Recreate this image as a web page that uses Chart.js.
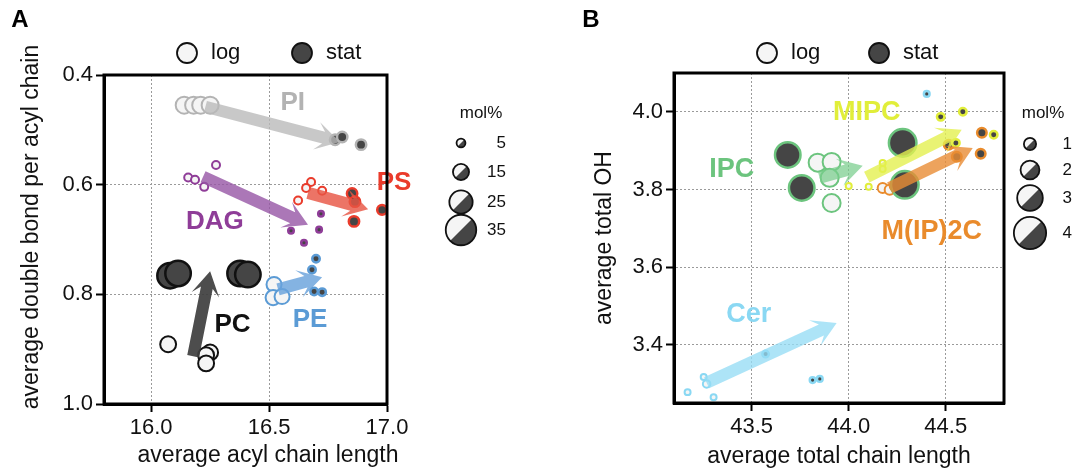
<!DOCTYPE html>
<html>
<head>
<meta charset="utf-8">
<script src="https://cdn.jsdelivr.net/npm/chart.js@4.4.1/dist/chart.umd.min.js"></script>
<style>
  html, body { margin: 0; padding: 0; background: #fff; }
  #wrap { position: relative; width: 1075px; height: 473px; }
  canvas { position: absolute; top: 0; }
  #chartA { left: 0; }
  #chartB { left: 537px; }
</style>
</head>
<body>
<div id="wrap">
  <canvas id="chartA" width="537" height="473"></canvas>
  <canvas id="chartB" width="538" height="473"></canvas>
</div>
<script>
const FONT = "'Liberation Sans', Arial, Helvetica, sans-serif";

// ---- Panel A: [average acyl chain length, double bonds per acyl chain, mol%]
const piLog   = [[16.14, 0.455, 19], [16.18, 0.455, 19], [16.21, 0.455, 19], [16.25, 0.455, 19]];
const piStat  = [[16.78, 0.518, 10.5], [16.81, 0.513, 10.5], [16.89, 0.527, 10.5]];
const dagLog  = [[16.275, 0.564, 6.5], [16.157, 0.587, 6.5], [16.186, 0.591, 6.5], [16.225, 0.604, 6.5]];
const dagStat = [[16.593, 0.684, 3.8], [16.72, 0.653, 3.8], [16.712, 0.682, 3.8], [16.648, 0.706, 3.8]];
const psLog   = [[16.678, 0.595, 6.5], [16.657, 0.606, 6.5], [16.725, 0.611, 6.5], [16.623, 0.629, 6.5]];
const psStat  = [[16.852, 0.616, 10.5], [16.864, 0.631, 10.5], [16.86, 0.667, 10.5], [16.979, 0.646, 9.5]];
const pcLog   = [[16.072, 0.891, 17.5], [16.25, 0.906, 17.5], [16.233, 0.911, 17.5], [16.233, 0.926, 17.5]];
const pcStat  = [[16.08, 0.766, 31.5], [16.114, 0.762, 31.5], [16.377, 0.762, 31.5], [16.41, 0.764, 31.5]];
const peLog   = [[16.521, 0.782, 16.3], [16.517, 0.806, 16.3], [16.555, 0.804, 16.3]];
const peStat  = [[16.699, 0.735, 6.5], [16.682, 0.755, 6.5], [16.691, 0.795, 6.5], [16.725, 0.796, 6.5]];
// arrows log -> stat: [x0, y0, x1, y1]
const piArrow  = [16.23, 0.458, 16.80, 0.522];
const dagArrow = [16.22, 0.5855, 16.665, 0.673];
const psArrow  = [16.665, 0.615, 16.92, 0.645];
const pcArrow  = [16.178, 0.913, 16.25, 0.758];
const peArrow  = [16.538, 0.791, 16.725, 0.769];
const xTicksA = [16.0, 16.5, 17.0];
const yTicksA = [0.4, 0.6, 0.8, 1.0];
const molTicksA = [5, 15, 25, 35];

// ---- Panel B: [average total chain length, average total OH, mol%]
const ipcLog    = [[43.84, 3.869, 2.16], [43.912, 3.871, 2.16], [43.902, 3.83, 2.16], [43.912, 3.765, 2.16]];
const ipcStat   = [[43.686, 3.889, 3.36], [43.758, 3.804, 3.36], [44.278, 3.92, 3.66], [44.289, 3.812, 3.66]];
const mipcLog   = [[44.0, 3.809, 0.37], [44.103, 3.807, 0.37], [44.175, 3.868, 0.37], [44.175, 3.853, 0.37]];
const mipcStat  = [[44.474, 3.987, 0.67], [44.588, 4.0, 0.67], [44.552, 3.92, 0.67], [44.747, 3.941, 0.67]];
const mip2cLog  = [[44.175, 3.804, 0.97], [44.211, 3.799, 0.97], [44.237, 3.809, 0.97], [44.263, 3.814, 0.97]];
const mip2cStat = [[44.515, 3.915, 0.97], [44.557, 3.884, 0.97], [44.686, 3.946, 0.97], [44.68, 3.892, 0.97]];
const cerLog    = [[43.17, 3.278, 0.37], [43.253, 3.317, 0.37], [43.268, 3.299, 0.6], [43.304, 3.265, 0.37]];
const cerStat   = [[43.572, 3.376, 0.52], [43.814, 3.309, 0.4], [43.851, 3.312, 0.4], [44.402, 4.046, 0.4]];
const ipcArrow   = [43.85, 3.83, 44.072, 3.861];
const mipcArrow  = [44.093, 3.832, 44.582, 3.954];
const mip2cArrow = [44.211, 3.804, 44.639, 3.907];
const cerArrow   = [43.268, 3.302, 43.938, 3.456];
const xTicksB = [43.5, 44.0, 44.5];
const yTicksB = [3.4, 3.6, 3.8, 4.0];
const molTicksB = [1, 2, 3, 4];

// visible marker diameter from mol%
const diamA = m => 5.3 + 0.72 * m;
const diamB = m => 5.5 + 6.7 * m;

function bubbles(points, color, stat, diam) {
  const bw = stat ? 2.5 : 2;
  return {
    data: points.map(p => ({ x: p[0], y: p[1], r: Math.max(1, diam(p[2]) / 2 - bw / 2) })),
    backgroundColor: stat ? '#454545' : '#f5f5f5',
    borderColor: color,
    borderWidth: bw,
    clip: false
  };
}

function drawArrow(ctx, x0, y0, x1, y1, color, w, hl, hw) {
  const dx = x1 - x0, dy = y1 - y0, len = Math.hypot(dx, dy);
  const ux = dx / len, uy = dy / len, px = -uy, py = ux;
  const bx = x1 - ux * hl, by = y1 - uy * hl;
  const nx = x1 - ux * hl * 0.7, ny = y1 - uy * hl * 0.7;
  ctx.beginPath();
  ctx.moveTo(x0 + px * w / 2, y0 + py * w / 2);
  ctx.lineTo(nx + px * w / 2, ny + py * w / 2);
  ctx.lineTo(bx + px * hw, by + py * hw);
  ctx.lineTo(x1, y1);
  ctx.lineTo(bx - px * hw, by - py * hw);
  ctx.lineTo(nx - px * w / 2, ny - py * w / 2);
  ctx.lineTo(x0 - px * w / 2, y0 - py * w / 2);
  ctx.closePath();
  ctx.fillStyle = color;
  ctx.fill();
}

function halfCircle(ctx, cx, cy, r) {
  ctx.save();
  ctx.beginPath();
  ctx.arc(cx, cy, r, 0, Math.PI * 2);
  ctx.clip();
  ctx.fillStyle = '#f5f5f5';
  ctx.fillRect(cx - r, cy - r, 2 * r, 2 * r);
  ctx.beginPath();
  ctx.moveTo(cx - r, cy + r);
  ctx.lineTo(cx + r, cy - r);
  ctx.lineTo(cx + r, cy + r);
  ctx.closePath();
  ctx.fillStyle = '#454545';
  ctx.fill();
  ctx.restore();
  ctx.beginPath();
  ctx.arc(cx, cy, r, 0, Math.PI * 2);
  ctx.lineWidth = 1.8;
  ctx.strokeStyle = '#111';
  ctx.stroke();
}

const decor = {
  id: 'decor',
  afterDatasetsDraw(chart, args, o) {
    const ctx = chart.ctx, xs = chart.scales.x, ys = chart.scales.y;
    ctx.save();
    o.groups.forEach(g => {
      const a = g.arrow;
      drawArrow(ctx, xs.getPixelForValue(a[0]), ys.getPixelForValue(a[1]),
        xs.getPixelForValue(a[2]), ys.getPixelForValue(a[3]), g.arrowColor, 12, 24, 14);
    });
    o.groups.forEach(g => {
      ctx.font = 'bold ' + o.labelSize + 'px ' + FONT;
      ctx.fillStyle = g.color;
      ctx.textAlign = 'center';
      ctx.textBaseline = 'middle';
      ctx.fillText(g.name, xs.getPixelForValue(g.label[0]), ys.getPixelForValue(g.label[1]));
    });
    ctx.restore();
  },
  afterDraw(chart, args, o) {
    const ctx = chart.ctx;
    const { left, top, right, bottom } = chart.chartArea;
    ctx.save();
    ctx.lineWidth = 3;
    ctx.strokeStyle = '#000';
    ctx.strokeRect(left, top, right - left, bottom - top);

    // panel letter
    ctx.fillStyle = '#000';
    ctx.font = 'bold 24px ' + FONT;
    ctx.textAlign = 'center';
    ctx.textBaseline = 'middle';
    ctx.fillText(o.letter[0], o.letter[1], o.letter[2]);

    // log / stat key
    const k = o.key;
    [[k.logX, false, 'log'], [k.statX, true, 'stat']].forEach(([cx, filled, txt]) => {
      ctx.beginPath();
      ctx.arc(cx, k.y, 10, 0, Math.PI * 2);
      ctx.fillStyle = filled ? '#454545' : '#f5f5f5';
      ctx.fill();
      ctx.lineWidth = 1.8;
      ctx.strokeStyle = '#111';
      ctx.stroke();
      ctx.fillStyle = '#111';
      ctx.font = '22px ' + FONT;
      ctx.textAlign = 'left';
      ctx.fillText(txt, cx + 24, k.y);
    });

    // mol% size key
    const m = o.mol;
    ctx.font = '17px ' + FONT;
    ctx.textAlign = 'center';
    ctx.fillStyle = '#111';
    ctx.fillText('mol%', m.titleX, m.titleY);
    m.values.forEach((v, i) => {
      halfCircle(ctx, m.cx, m.ys[i], m.diam(v) / 2);
      ctx.fillStyle = '#111';
      ctx.textAlign = 'right';
      ctx.fillText(String(v), m.labelRight, m.ys[i]);
    });

    // axis titles drawn by hand where they sit off-centre
    if (o.titles) {
      ctx.font = '23px ' + FONT;
      ctx.fillStyle = '#111';
      ctx.textAlign = 'center';
      ctx.fillText(o.titles.x[0], o.titles.x[1], o.titles.x[2]);
      ctx.translate(o.titles.y[1], o.titles.y[2]);
      ctx.rotate(-Math.PI / 2);
      ctx.fillText(o.titles.y[0], 0, 0);
    }
    ctx.restore();
  }
};

function axis(min, max, ticksArr, size, reverse, title, titlePad) {
  const cfg = {
    type: 'linear',
    min: min,
    max: max,
    reverse: !!reverse,
    afterBuildTicks: s => { s.ticks = ticksArr.map(v => ({ value: v })); },
    ticks: {
      font: { family: FONT, size: 22 },
      color: '#111',
      padding: 3,
      callback: v => Number(v).toFixed(1)
    },
    grid: { color: '#9a9a9a', lineWidth: 1, tickColor: '#000', tickLength: 8, tickWidth: 2 },
    border: { color: '#000', width: 3, dash: [2, 2] }
  };
  if (title) {
    cfg.title = { display: true, text: title, font: { family: FONT, size: 23 }, color: '#111', padding: titlePad };
  }
  if (size.h) cfg.afterFit = s => { s.height = size.h; };
  if (size.w) cfg.afterFit = s => { s.width = size.w; };
  return cfg;
}

const groupsA = [
  { name: 'PI',  color: '#b3b3b3', log: piLog,  stat: piStat,  arrow: piArrow,  arrowColor: 'rgba(185,185,185,0.78)', label: [16.60, 0.451] },
  { name: 'DAG', color: '#8f3d98', log: dagLog, stat: dagStat, arrow: dagArrow, arrowColor: 'rgba(150,85,165,0.8)',   label: [16.27, 0.667] },
  { name: 'PS',  color: '#ea3b2b', log: psLog,  stat: psStat,  arrow: psArrow,  arrowColor: 'rgba(232,85,68,0.82)',   label: [17.03, 0.596] },
  { name: 'PC',  color: '#111111', log: pcLog,  stat: pcStat,  arrow: pcArrow,  arrowColor: 'rgba(62,62,62,0.92)',    label: [16.345, 0.856] },
  { name: 'PE',  color: '#5b9bd5', log: peLog,  stat: peStat,  arrow: peArrow,  arrowColor: 'rgba(105,162,220,0.82)', label: [16.674, 0.847] }
];

const groupsB = [
  { name: 'IPC',     color: '#6cc47e', log: ipcLog,   stat: ipcStat,   arrow: ipcArrow,   arrowColor: 'rgba(120,205,140,0.72)', label: [43.397, 3.851] },
  { name: 'MIPC',    color: '#e1ee3a', log: mipcLog,  stat: mipcStat,  arrow: mipcArrow,  arrowColor: 'rgba(228,240,80,0.8)',   label: [44.093, 3.997] },
  { name: 'M(IP)2C', color: '#e98b2c', log: mip2cLog, stat: mip2cStat, arrow: mip2cArrow, arrowColor: 'rgba(232,140,52,0.8)',   label: [44.428, 3.691] },
  { name: 'Cer',     color: '#8ad8f3', log: cerLog,   stat: cerStat,   arrow: cerArrow,   arrowColor: 'rgba(150,220,245,0.78)', label: [43.485, 3.477] }
];

function datasets(groups, diam) {
  const out = [];
  groups.forEach(g => {
    out.push(bubbles(g.log, g.color, false, diam));
    out.push(bubbles(g.stat, g.color, true, diam));
  });
  return out;
}

const common = {
  responsive: false,
  animation: false,
  events: []
};

new Chart(document.getElementById('chartA').getContext('2d'), {
  type: 'bubble',
  data: { datasets: datasets(groupsA, diamA) },
  options: Object.assign({}, common, {
    layout: { padding: { left: 0, top: 75, right: 150, bottom: 0 } },
    plugins: {
      legend: { display: false },
      tooltip: { enabled: false },
      decor: {
        groups: groupsA,
        labelSize: 26,
        letter: ['A', 20, 20],
        key: { logX: 187, statX: 302, y: 53 },
        mol: { values: molTicksA, diam: diamA, cx: 461, ys: [143, 172, 202, 230], labelRight: 506, titleX: 481, titleY: 113 },
        titles: { x: ['average acyl chain length', 268, 456], y: ['average double bond per acyl chain', 32, 227] }
      }
    },
    scales: {
      x: axis(15.8, 17.0, xTicksA, { h: 69 }),
      y: axis(0.4, 1.0, yTicksA, { w: 104 }, true)
    }
  }),
  plugins: [decor]
});

new Chart(document.getElementById('chartB').getContext('2d'), {
  type: 'bubble',
  data: { datasets: datasets(groupsB, diamB) },
  options: Object.assign({}, common, {
    layout: { padding: { left: 0, top: 73, right: 71, bottom: 0 } },
    plugins: {
      legend: { display: false },
      tooltip: { enabled: false },
      decor: {
        groups: groupsB,
        labelSize: 27,
        letter: ['B', 54, 20],
        key: { logX: 230, statX: 342, y: 53 },
        mol: { values: molTicksB, diam: diamB, cx: 493, ys: [144, 170, 198, 233], labelRight: 535, titleX: 506, titleY: 113 }
      }
    },
    scales: {
      x: axis(43.1, 44.8, xTicksB, { h: 70 }, false, 'average total chain length', { top: 0, bottom: 3 }),
      y: axis(3.25, 4.1, yTicksB, { w: 137 }, false, 'average total OH', { top: 54, bottom: 0 })
    }
  }),
  plugins: [decor]
});
</script>
</body>
</html>
